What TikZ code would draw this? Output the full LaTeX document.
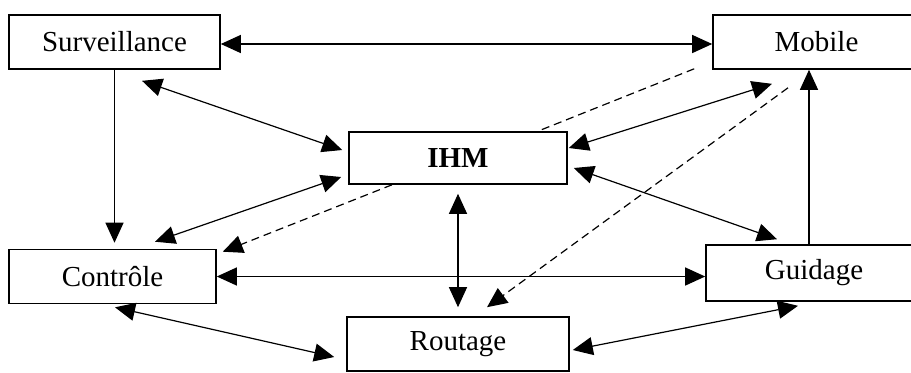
\documentclass[tikz,border=0pt]{standalone}
\usepackage{fontspec}
\setmainfont{Liberation Serif}
\usetikzlibrary{arrows.meta}
\tikzset{
    box/.style = {draw, line width = 0.8pt, rectangle, minimum height = 27pt, inner sep = 0pt},
    tip/.tip = {Triangle[length = 10pt, width = 9pt]},
    link/.style = {line width = 0.6pt, -tip},
    links/.style = {line width = 0.6pt, tip-tip},
    hint/.style = {line width = 0.6pt, dash pattern = on 4pt off 2.5pt}
}
\begin{document}
\begin{tikzpicture}[x = 0.5pt, y = -0.5pt]
        \useasboundingbox (0,0) rectangle (911,372);
        \clip (0,0) rectangle (911,372);
        \begin{scope}[every node/.append style = {font = \fontsize{14.5}{17}\selectfont}]
            \node[box, minimum width = 105.5pt] (surv) at (114.5,42) {Surveillance};
            \node[box, minimum width = 103.5pt] (mob) at (816.5,42) {Mobile};
            \node[box, minimum width = 109pt, minimum height = 26pt] (ihm) at (458,158) {\textbf{IHM}};
            \node[box, minimum width = 103.5pt] (ctrl) at (112.5,276.5) {Contrôle};
            \node[box, minimum width = 108pt, minimum height = 28pt] (guid) at (814,273) {Guidage};
            \node[box, minimum width = 111pt] (rout) at (458,344) {Routage};
        \end{scope}
        \begin{scope}
            \draw[links] ([shift = {(0,2)}]surv.east) -- ([shift = {(0,2)}]mob.west);
            \draw[link] (surv.south) -- ([shift = {(0,-6)}]surv.south |- ctrl.north);
            \draw[links] ([shift = {(27.5,11)}]surv.south) -- ([shift = {(-6,-8)}]ihm.west);
            \draw[links] ([shift = {(42.5,-7)}]ctrl.north) -- ([shift = {(-7,19)}]ihm.west);
            \draw[links] (ctrl.east) -- (ctrl.east -| guid.west);
            \draw[links] ([shift = {(0,9)}]ihm.south) -- ([shift = {(0,-9)}]rout.north);
            \draw[links] ([shift = {(2.5,3)}]ctrl.south) -- ([shift = {(-12,13)}]rout.west);
            \draw[links] ([shift = {(3,6)}]rout.east) -- ([shift = {(-16,4)}]guid.south);
            \draw[link] ([shift = {(-5,0)}]guid.north) -- ([shift = {(-7.5,0)}]mob.south);
            \draw[links] ([shift = {(1,-10)}]ihm.east) -- ([shift = {(-44.5,14)}]mob.south);
            \draw[links] ([shift = {(6,10)}]ihm.east) -- ([shift = {(-37,-5)}]guid.north);
            % dashed ones
            \draw[hint, -tip] ([shift = {(-66,0)}]ihm.south) -- ([shift = {(6,3)}]ctrl.north east);
            \draw[hint] ([shift = {(-18,-1)}]mob.south west) -- ([shift = {(-30,0)}]ihm.north east);
            \draw[hint, -tip] ([shift = {(-28.5,18)}]mob.south) -- ([shift = {(29,-9)}]rout.north);
        \end{scope}
    \end{tikzpicture}
\end{document}
